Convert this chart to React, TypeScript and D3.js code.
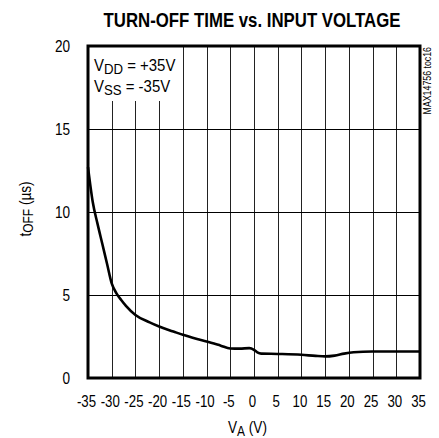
import React, { useEffect, useRef } from 'react';
import * as d3 from 'd3';

const xTicks = [-35, -30, -25, -20, -15, -10, -5, 0, 5, 10, 15, 20, 25, 30, 35];
const yTicks = [0, 5, 10, 15, 20];
const curveV = [-35, -34, -33, -32, -31, -30, -29, -28, -27, -25, -22, -20, -17, -15, -12, -10, -7, -5, -3, -1, 0, 0.7, 1.5, 5, 10, 13, 15, 17, 19, 21, 25, 30, 35];
const curveT = [12.7, 10.6, 9.3, 8.1, 6.9, 5.7, 5.1, 4.7, 4.35, 3.8, 3.35, 3.1, 2.8, 2.6, 2.35, 2.2, 1.95, 1.78, 1.77, 1.8, 1.7, 1.55, 1.47, 1.45, 1.4, 1.33, 1.3, 1.35, 1.47, 1.55, 1.6, 1.6, 1.6];

const font = "'Liberation Sans', Arial, sans-serif";
const narrow = 0.8;

const App: React.FC = () => {
  const ref = useRef<SVGSVGElement>(null);

  useEffect(() => {
    if (!ref.current) return;
    const svg = d3.select(ref.current);
    svg.selectAll('*').remove();

    const left = 88, right = 420, top = 46, bottom = 378;
    const x = d3.scaleLinear().domain([-35, 35]).range([left, right]);
    const y = d3.scaleLinear().domain([0, 20]).range([bottom, top]);

    // condensed text helper: Arial Narrow look from Liberation Sans
    const txt = (g: any, px: number, py: number, size: number, sx: number, anchor = 'start', rot = 0) =>
      g.append('text')
        .attr('transform', `translate(${px},${py}) rotate(${rot}) scale(${sx},1)`)
        .attr('font-family', font)
        .attr('font-size', size)
        .attr('text-anchor', anchor)
        .attr('fill', '#000');

    // grid
    const grid = svg.append('g');
    grid.selectAll('line.v')
      .data(xTicks.slice(1, -1))
      .enter().append('line')
      .attr('x1', d => Math.round(x(d)) + 0.5).attr('x2', d => Math.round(x(d)) + 0.5)
      .attr('y1', top).attr('y2', bottom)
      .attr('stroke', '#222').attr('stroke-width', 1);
    grid.selectAll('line.h')
      .data(yTicks.slice(1, -1))
      .enter().append('line')
      .attr('x1', left).attr('x2', right)
      .attr('y1', d => Math.round(y(d)) + 0.5).attr('y2', d => Math.round(y(d)) + 0.5)
      .attr('stroke', '#000').attr('stroke-width', 1);

    // legend box covering grid
    svg.append('rect')
      .attr('x', left + 1).attr('y', top + 1)
      .attr('width', 92).attr('height', 54)
      .attr('fill', '#fff');

    const t1 = txt(svg, 94, 71, 17, 0.88);
    t1.append('tspan').text('V');
    t1.append('tspan').attr('font-size', 15).attr('dy', 2.5).text('DD');
    t1.append('tspan').attr('dy', -2.5).text(' = +35V');
    const t2 = txt(svg, 94, 92, 17, 0.88);
    t2.append('tspan').text('V');
    t2.append('tspan').attr('font-size', 15).attr('dy', 3).text('SS');
    t2.append('tspan').attr('dy', -3).text(' = -35V');

    // curve
    const pts = curveV.map((v, i) => [v, curveT[i]] as [number, number]);
    const line = d3.line<[number, number]>()
      .x(d => x(d[0])).y(d => y(d[1]))
      .curve(d3.curveMonotoneX);
    svg.append('path')
      .attr('d', line(pts) || '')
      .attr('fill', 'none')
      .attr('stroke', '#000')
      .attr('stroke-width', 2.6)
      .attr('stroke-linejoin', 'round');

    // frame
    svg.append('rect')
      .attr('x', left).attr('y', top)
      .attr('width', right - left).attr('height', bottom - top)
      .attr('fill', 'none').attr('stroke', '#000').attr('stroke-width', 3);

    // tick labels
    xTicks.forEach(d => txt(svg, x(d) - 1.5, 407, 17, 0.78, 'middle').text(String(d)));
    yTicks.forEach(d => txt(svg, 70, y(d) + 6, 17, narrow, 'end').text(String(d)));

    // axis titles
    const xt = txt(svg, 228, 433, 17, narrow);
    xt.append('tspan').text('V');
    xt.append('tspan').attr('font-size', 15).attr('dy', 3).text('A');
    xt.append('tspan').attr('dy', -3).text('  (V)');

    const yt = txt(svg, 31, 209, 17, narrow, 'middle', -90);
    yt.append('tspan').text('t');
    yt.append('tspan').attr('font-size', 15).attr('dy', 2).text('OFF');
    yt.append('tspan').attr('dy', -2).text(' (µs)');

    txt(svg, 252, 27, 21, narrow, 'middle')
      .attr('font-weight', 'bold')
      .text('TURN-OFF TIME vs. INPUT VOLTAGE');

    txt(svg, 431, 47, 10, 0.88, 'end', -90)
      .text('MAX14756 toc16');
  }, []);

  return (
    <svg ref={ref} width={439} height={438}
      style={{ position: 'absolute', left: 0, top: 0, background: '#fff' }} />
  );
};

export default App;
